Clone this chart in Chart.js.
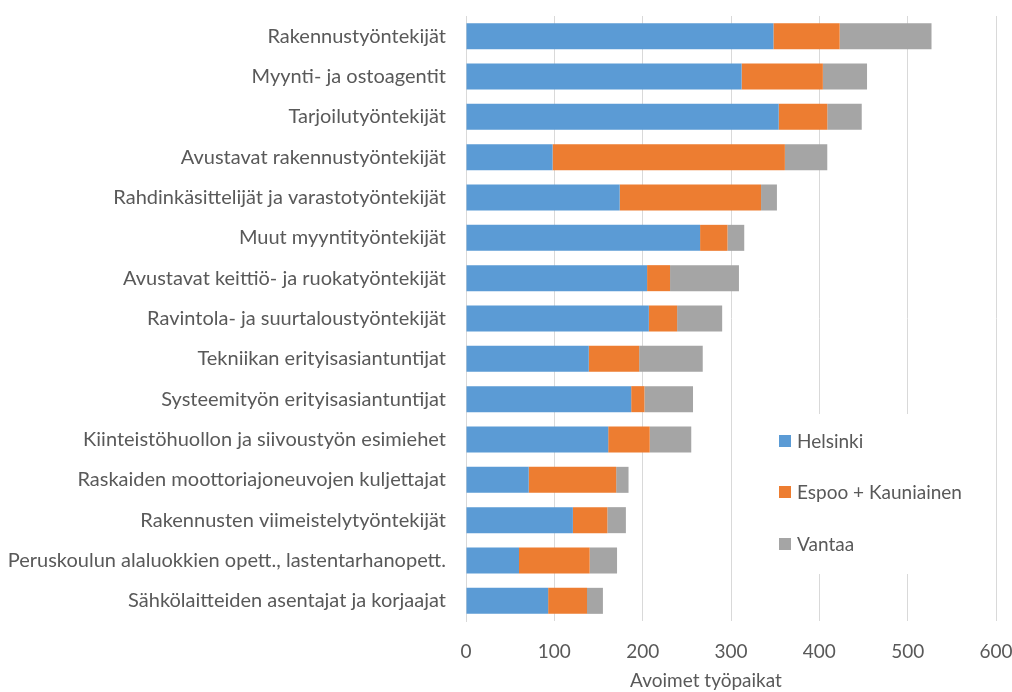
<!DOCTYPE html>
<html>
<head>
<meta charset="utf-8">
<script src="https://cdn.jsdelivr.net/npm/chart.js@4/dist/chart.umd.min.js"></script>
<style>
  body { margin: 0; background: #fff; }
  #wrap { width: 1012px; height: 692px; }
</style>
</head>
<body>
<div id="wrap"><canvas id="jobsChart"></canvas></div>
<script>
var categories = [
    'Rakennustyöntekijät',
    'Myynti- ja ostoagentit',
    'Tarjoilutyöntekijät',
    'Avustavat rakennustyöntekijät',
    'Rahdinkäsittelijät ja varastotyöntekijät',
    'Muut myyntityöntekijät',
    'Avustavat keittiö- ja ruokatyöntekijät',
    'Ravintola- ja suurtaloustyöntekijät',
    'Tekniikan erityisasiantuntijat',
    'Systeemityön erityisasiantuntijat',
    'Kiinteistöhuollon ja siivoustyön esimiehet',
    'Raskaiden moottoriajoneuvojen kuljettajat',
    'Rakennusten viimeistelytyöntekijät',
    'Peruskoulun alaluokkien opett., lastentarhanopett.',
    'Sähkölaitteiden asentajat ja korjaajat'
];
var helsinki = [348, 312, 354, 98, 174, 265, 205, 207, 139, 187, 161, 71, 121, 60, 93];
var espoo = [75, 92, 55, 263, 160, 31, 26, 32, 57, 15, 47, 99, 39, 80, 44];
var vantaa = [104, 50, 39, 48, 18, 19, 78, 51, 72, 55, 47, 14, 21, 31, 18];
var seriesNames = ['Helsinki', 'Espoo + Kauniainen', 'Vantaa'];
var xTicks = [0, 100, 200, 300, 400, 500, 600];
var axisTitle = 'Avoimet työpaikat';

var textColor = '#595959';
var fontFamily = 'Lato, "Open Sans", sans-serif';

// legend drawn inside the plot, on a white box like the original
// plus the x title, which sits a bit left of the plot centre in the original
var sideLegend = {
    id: 'sideLegend',
    afterDatasetsDraw: function(chart) {
        var ctx = chart.ctx;
        ctx.save();
        ctx.fillStyle = '#ffffff';
        ctx.fillRect(770, 414, 215, 160);
        var ys = [441, 492, 544];
        ctx.font = '19px ' + fontFamily;
        ctx.textBaseline = 'middle';
        chart.data.datasets.forEach(function(ds, i) {
            ctx.fillStyle = ds.backgroundColor;
            ctx.fillRect(779, ys[i] - 6, 12, 12);
            ctx.fillStyle = textColor;
            ctx.textAlign = 'left';
            ctx.fillText(ds.label, 797, ys[i] + 1);
        });
        ctx.textAlign = 'center';
        ctx.fillStyle = textColor;
        ctx.fillText(axisTitle, 706, 681);
        ctx.restore();
    }
};

document.addEventListener("DOMContentLoaded", function() {
    var ctx = document.getElementById('jobsChart').getContext('2d');
    var jobsChart = new Chart(ctx, {
        type: 'bar',
        data: {
            labels: categories,
            datasets: [
                { label: seriesNames[0], data: helsinki, backgroundColor: '#5b9bd5' },
                { label: seriesNames[1], data: espoo, backgroundColor: '#ed7d31' },
                { label: seriesNames[2], data: vantaa, backgroundColor: '#a5a5a5' }
            ]
        },
        options: {
            indexAxis: 'y',
            responsive: true,
            maintainAspectRatio: false,
            animation: false,
            layout: { padding: { top: 16, right: 16, left: 0, bottom: 0 } },
            datasets: {
                bar: {
                    barPercentage: 0.645,
                    categoryPercentage: 1,
                    borderColor: 'rgba(255,255,255,0.6)',
                    borderWidth: { left: 1, right: 0, top: 0, bottom: 0 }
                }
            },
            plugins: {
                legend: { display: false },
                tooltip: { enabled: false }
            },
            scales: {
                x: {
                    stacked: true,
                    min: 0,
                    max: 600,
                    afterBuildTicks: function(scale) {
                        scale.ticks = xTicks.map(function(v) { return { value: v }; });
                    },
                    grid: { color: '#d9d9d9', drawTicks: false },
                    border: { display: false },
                    ticks: {
                        color: textColor,
                        font: { family: fontFamily, size: 19 },
                        padding: 19
                    },
                    afterFit: function(scale) {
                        scale.height = 71;
                        scale.paddingLeft = 0;
                        scale.paddingRight = 0;
                    }
                },
                y: {
                    stacked: true,
                    grid: { display: false, drawTicks: false },
                    border: { display: true, color: '#d9d9d9' },
                    ticks: {
                        color: textColor,
                        font: { family: fontFamily, size: 20 },
                        padding: 20,
                        autoSkip: false
                    },
                    afterFit: function(scale) {
                        scale.width = 466;
                        scale.paddingTop = 0;
                        scale.paddingBottom = 0;
                    }
                }
            }
        },
        plugins: [sideLegend]
    });
});
</script>
</body>
</html>
